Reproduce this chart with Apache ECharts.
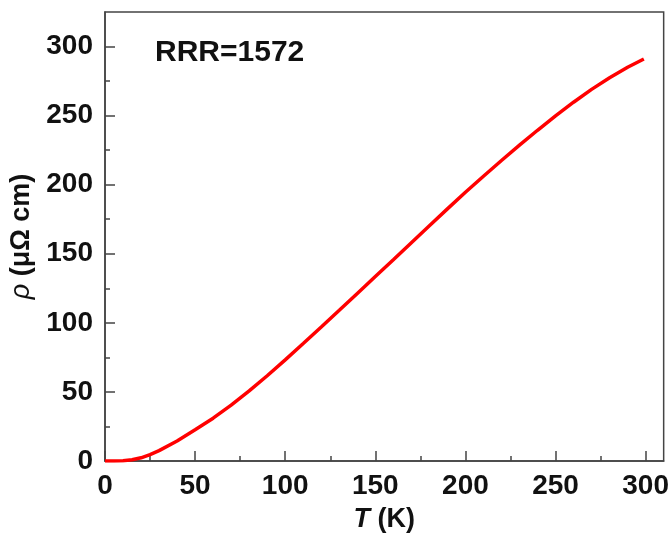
<!DOCTYPE html>
<html>
<head>
<meta charset="utf-8">
<script src="https://cdn.jsdelivr.net/npm/echarts@6/dist/echarts.min.js"></script>
<style>
  html, body { margin: 0; padding: 0; background: #fff; }
  #chart { width: 672px; height: 541px; }
</style>
</head>
<body>
<div id="chart"></div>
<script>
// temperature (K) and resistivity (μΩ cm)
const temps = [0, 2, 5, 10, 15, 20, 25, 30, 40, 50, 60, 70, 80, 90, 100, 110, 120, 130, 140, 150,
  160, 170, 180, 190, 200, 210, 220, 230, 240, 250, 260, 270, 280, 290, 299]
const rho = [0, 0, 0.03, 0.25, 0.9, 2.3, 4.6, 7.5, 14.5, 22.6, 31.0, 40.4, 50.7, 61.7, 73.2, 85.0, 97.0, 109.1, 121.3, 133.5,
  145.7, 158.0, 170.3, 182.5, 194.5, 206.1, 217.5, 228.6, 239.4, 249.8, 259.7, 269.0, 277.4, 285.0, 291.0]
const xTicks = [0, 50, 100, 150, 200, 250, 300]
const yTicks = [0, 50, 100, 150, 200, 250, 300]
const annotation = 'RRR=1572'

const font = 'Liberation Sans, Arial, sans-serif'
const axisColor = '#444'

const chart = echarts.init(document.getElementById('chart'))

const tickLabel = v => (v % 50 === 0 ? v : '')

chart.setOption({
  animation: false,
  grid: {
    left: 105,
    right: 6,
    top: 12,
    bottom: 80,
    show: true,
    borderColor: axisColor,
    borderWidth: 1.5
  },
  xAxis: {
    type: 'value',
    min: 0,
    max: 310,
    interval: 50,
    name: '{i|T} (K)',
    nameLocation: 'middle',
    nameGap: 45,
    nameTextStyle: {
      fontFamily: font,
      fontSize: 27,
      fontWeight: 'bold',
      color: '#111',
      rich: {
        i: { fontFamily: font, fontSize: 27, fontStyle: 'italic', fontWeight: 'bold', color: '#111' }
      }
    },
    axisLine: { show: true, onZero: false, lineStyle: { color: axisColor, width: 1.5 } },
    axisTick: { show: true, inside: true, length: 10, customValues: xTicks, lineStyle: { color: axisColor, width: 1.5 } },
    minorTick: { show: true, splitNumber: 2, length: 5, lineStyle: { color: axisColor, width: 1.5 } },
    axisLabel: { margin: 11, fontFamily: font, fontSize: 28, fontWeight: 'bold', color: '#111', formatter: tickLabel },
    splitLine: { show: false }
  },
  yAxis: {
    type: 'value',
    min: 0,
    max: 325,
    interval: 50,
    name: '{i|ρ} (μΩ cm)',
    nameLocation: 'middle',
    nameRotate: 90,
    nameGap: 62,
    nameTextStyle: {
      fontFamily: font,
      fontSize: 27,
      fontWeight: 'bold',
      color: '#111',
      rich: {
        i: { fontFamily: font, fontSize: 27, fontStyle: 'italic', fontWeight: 'normal', color: '#111' }
      }
    },
    axisLine: { show: true, onZero: false, lineStyle: { color: axisColor, width: 1.5 } },
    axisTick: { show: true, inside: true, length: 10, customValues: yTicks, lineStyle: { color: axisColor, width: 1.5 } },
    minorTick: { show: true, splitNumber: 2, length: 5, lineStyle: { color: axisColor, width: 1.5 } },
    axisLabel: { margin: 12, fontFamily: font, fontSize: 28, fontWeight: 'bold', color: '#111', formatter: tickLabel },
    splitLine: { show: false }
  },
  graphic: [{
    type: 'text',
    left: 155,
    top: 38,
    style: {
      text: annotation,
      font: 'bold 30px ' + font,
      fill: '#111'
    }
  }],
  series: [{
    type: 'line',
    data: temps.map((t, i) => [t, rho[i]]),
    smooth: false,
    showSymbol: false,
    lineStyle: { color: '#ff0000', width: 3.5 }
  }]
})
</script>
</body>
</html>
